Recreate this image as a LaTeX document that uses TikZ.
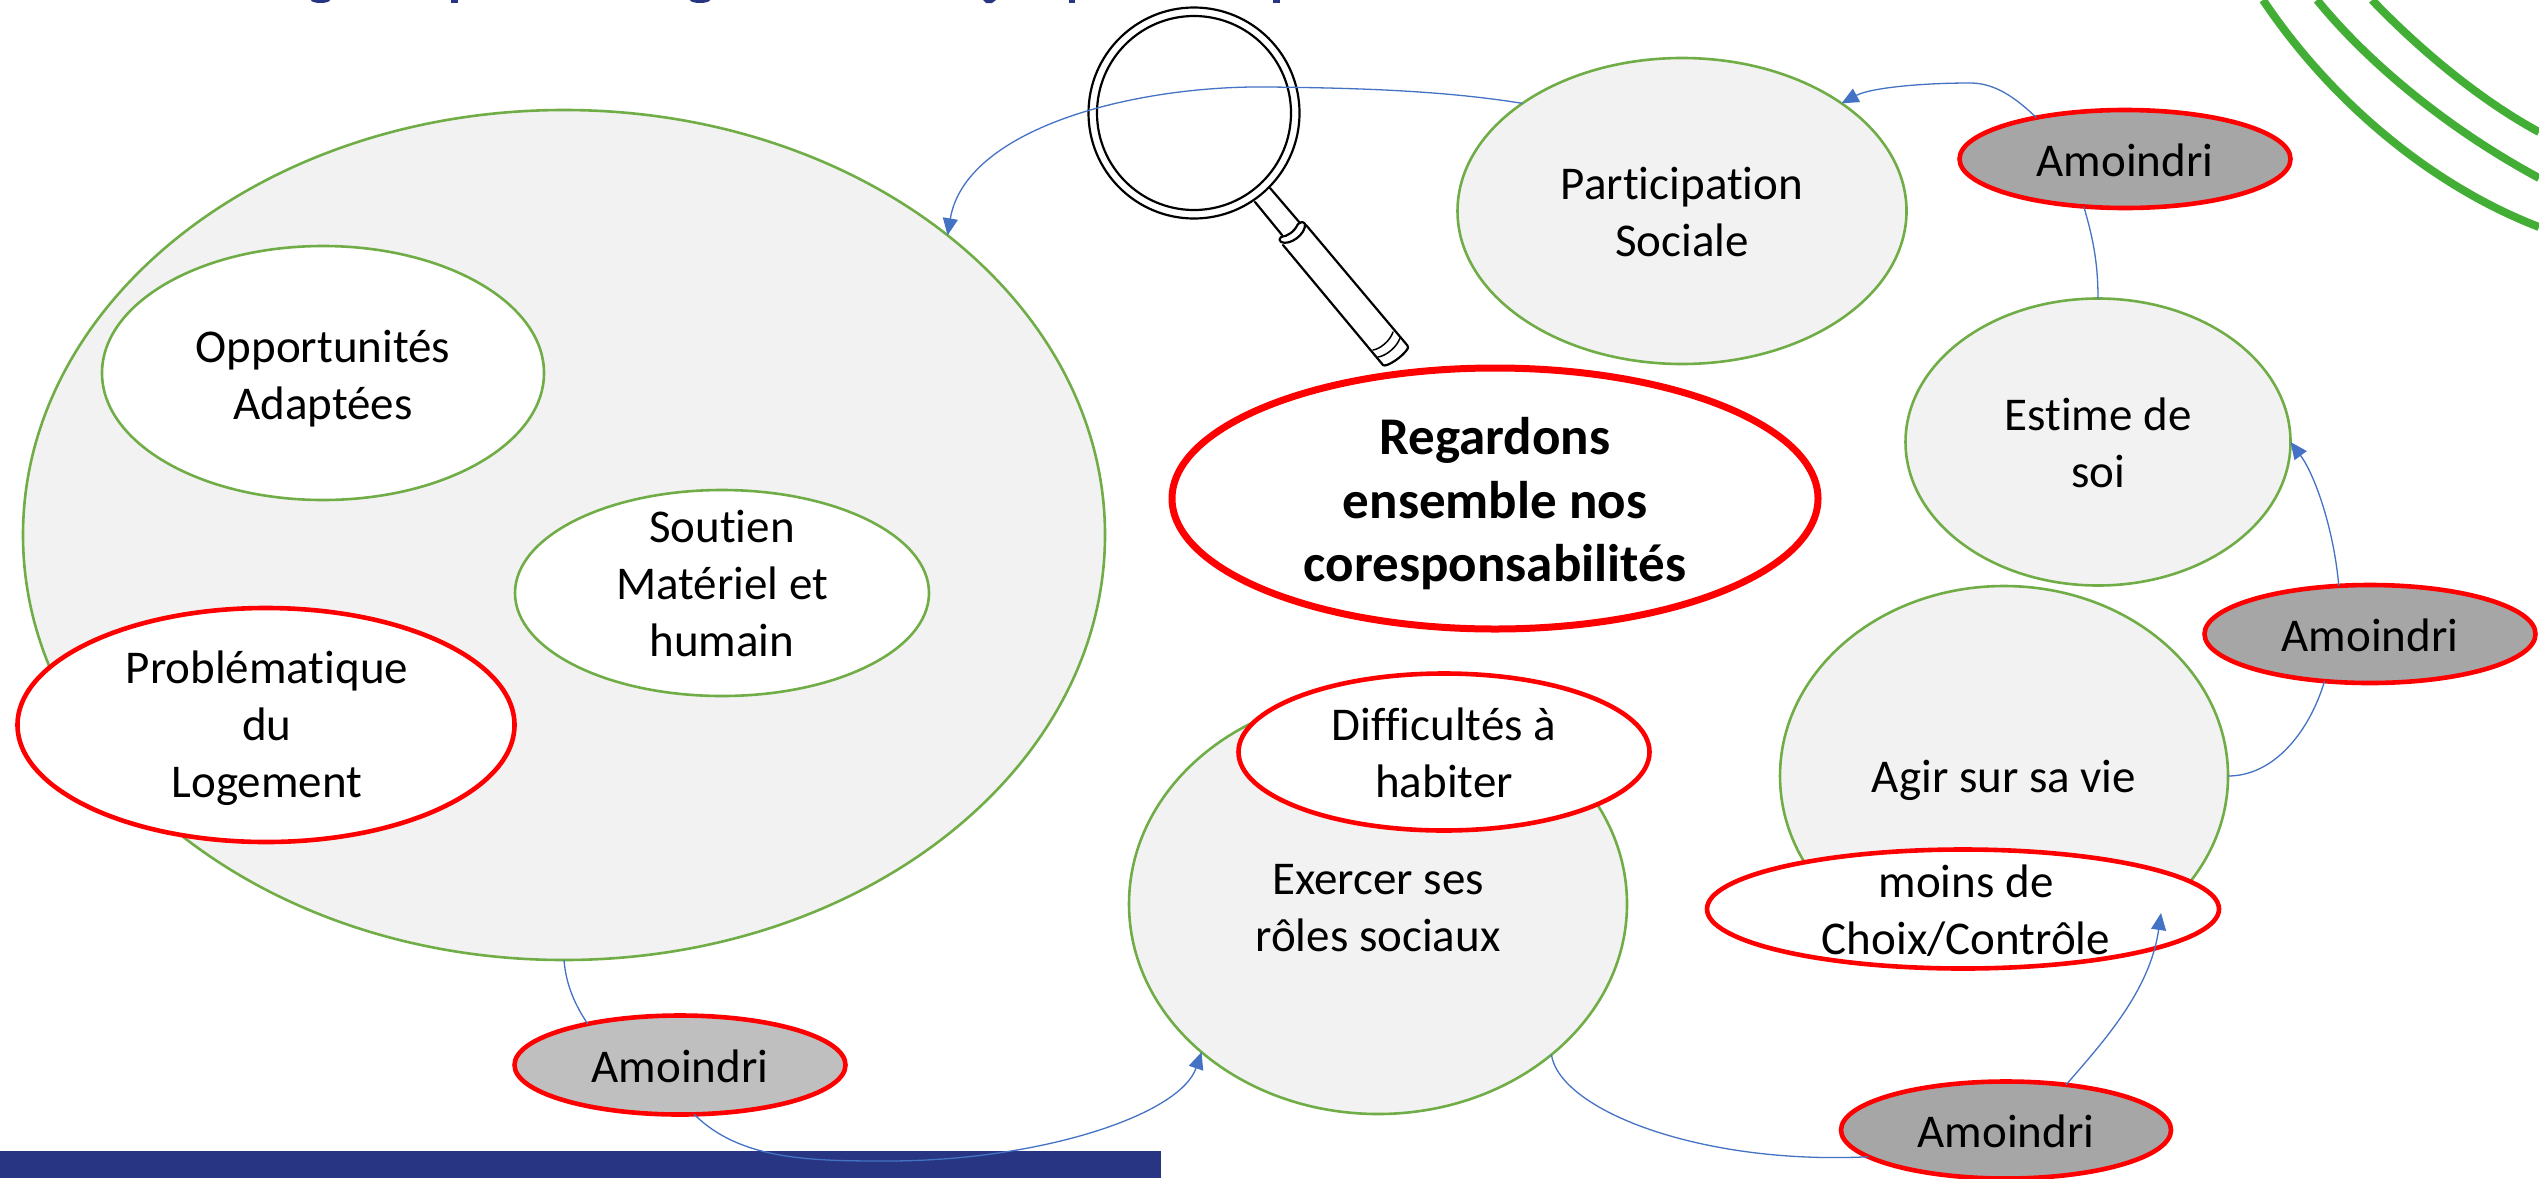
\documentclass[tikz,border=0pt]{standalone}
\usepackage{fontspec}
\setmainfont{Carlito}[Ligatures=NoCommon]
\usetikzlibrary{arrows.meta,shapes.geometric}
\definecolor{gborder}{HTML}{70AD47}
\definecolor{gfill}{HTML}{F2F2F2}
\definecolor{cblue}{HTML}{4472C4}
\definecolor{navy}{HTML}{283583}
\definecolor{arcgreen}{HTML}{43AE35}
\definecolor{darkg}{HTML}{A6A6A6}
\definecolor{lightg}{HTML}{BFBFBF}
\tikzset{
  x=1pt,y=-1pt,
  oval/.style={shape=ellipse,inner sep=0pt,outer sep=0pt},
  soft/.style={oval,draw=gborder,fill=gfill,line width=2.6pt},
  softwhite/.style={oval,draw=gborder,fill=white,line width=2.6pt},
  alert/.style={oval,draw=red,fill=white,line width=4.6pt},
  amo/.style={oval,draw=red,line width=4.6pt},
  txt/.style={align=center,inner sep=0pt,font=\fontsize{47}{57}\selectfont},
  boldtxt/.style={align=center,inner sep=0pt,font=\fontsize{53}{63.5}\selectfont\bfseries},
  link/.style={draw=cblue,line width=1.3pt},
  linkarrow/.style={link,-{Triangle[length=17pt,width=15pt,fill=cblue]}},
  lens/.style={draw=black,line width=2.2pt,line join=round,line cap=round},
  greenarc/.style={draw=arcgreen,line width=8pt},
  titlebit/.style={fill=navy,draw=none}
}
\begin{document}
\begin{tikzpicture}
\useasboundingbox (0,0) rectangle (2539,1178);
\clip (0,0) rectangle (2539,1178);
\fill[white] (0,0) rectangle (2539,1178);
% title descenders cut by the page edge
\fill[titlebit] (311,0) arc[start angle=180,end angle=0,x radius=9.5,y radius=3] -- cycle;
\fill[titlebit] (451,0) rectangle (458,3);
\fill[titlebit] (690,0) arc[start angle=180,end angle=0,x radius=10,y radius=3] -- cycle;
\fill[titlebit] (983,0) -- (996,0) -- (992,3) -- (986,3) -- cycle;
\fill[titlebit] (1069,0) rectangle (1075,3);
\fill[titlebit] (1273,0) rectangle (1280,3);
% bar
\fill[navy] (0,1151) rectangle (1161,1178);
% arcs
\draw[greenarc] (2263,0) .. controls (2330,100) and (2430,185) .. (2539,227);
\draw[greenarc] (2317,0) .. controls (2370,65) and (2450,130) .. (2539,178);
\draw[greenarc] (2372,0) .. controls (2420,50) and (2480,100) .. (2539,132);
% magnifier
\draw[lens] (1194,113) circle[radius=105.5];
\draw[lens] (1194,113) circle[radius=97];
\draw[lens] (1255,202) -- (1282,235);
\draw[lens] (1270,188) -- (1300,223);
\draw[lens] (1281,242) .. controls (1290,246) and (1306,234) .. (1305,224) .. controls (1303,221) and (1300,222) .. (1298,224) .. controls (1294,232) and (1288,236) .. (1281,237) .. controls (1279,238) and (1279,241) .. (1281,242);
\draw[lens] (1283,245) -- (1383,365) .. controls (1386,368) and (1404,356) .. (1408,348) .. controls (1408,346) and (1407,345) .. (1407,345) -- (1306,225);
\draw[lens,line width=1.5pt] (1373,350) .. controls (1380,349) and (1390,341) .. (1393,332);
\draw[lens,line width=1.5pt] (1378,357) .. controls (1386,356) and (1397,347) .. (1400,338);
% ovals
\node[soft,minimum width=1082pt,minimum height=850pt] (big) at (564,535) {};
\node[softwhite,minimum width=442pt,minimum height=254pt] (opp) at (323,373) {};
\node[softwhite,minimum width=414pt,minimum height=206pt] (sou) at (722,593) {};
\node[alert,minimum width=497pt,minimum height=234pt] (pro) at (266,725) {};
\node[soft,minimum width=449pt,minimum height=306pt] (par) at (1682,211) {};
\node[soft,minimum width=385pt,minimum height=287pt] (est) at (2098,442) {};
\node[soft,minimum width=448pt,minimum height=380pt] (agi) at (2004,776) {};
\node[alert,minimum width=512pt,minimum height=119pt] (moi) at (1963,909) {};
\node[soft,minimum width=498pt,minimum height=420pt] (exe) at (1378,904) {};
\node[alert,minimum width=411pt,minimum height=157pt] (dif) at (1444,752) {};
\node[alert,line width=7pt,minimum width=646pt,minimum height=261pt] (reg) at (1495,498.5) {};
\node[amo,fill=darkg,minimum width=331pt,minimum height=98pt] (amoa) at (2125,159) {};
\node[amo,fill=darkg,minimum width=331pt,minimum height=98pt] (amob) at (2370,634) {};
\node[amo,fill=darkg,minimum width=330pt,minimum height=97pt] (amoc) at (2006,1130) {};
\node[amo,fill=lightg,minimum width=331pt,minimum height=99pt] (amod) at (680,1065) {};
% texts
\node[txt] (topp) at (323,379) {Opportunités\\Adaptées};
\node[txt] (tsou) at (722,583) {Soutien\\Matériel et\\humain};
\node[txt] (tpro) at (267,728) {Problématique\\du\\Logement};
\node[txt] (tpar) at (1682,212) {Participation\\Sociale};
\node[txt] (test) at (2098,443) {Estime de\\soi};
\node[txt] (tagi) at (2004,780) {Agir sur sa vie};
\node[txt] (tmoi) at (1966,911) {moins de\\Choix/Contrôle};
\node[txt] (texe) at (1378,908) {Exercer ses\\rôles sociaux};
\node[txt] (tdif) at (1444,753) {Difficultés à\\habiter};
\node[boldtxt] (treg) at (1495,504) {Regardons\\ensemble nos\\coresponsabilités};
\node[txt] (tamoa) at (2125,160) {Amoindri};
\node[txt] (tamob) at (2370,635) {Amoindri};
\node[txt] (tamoc) at (2006,1131) {Amoindri};
\node[txt] (tamod) at (680,1066) {Amoindri};
% connectors
\coordinate (moitip) at (2161,913);
\draw[linkarrow] (par.146.2) .. controls (1440,90) and (1350,88) .. (1270,87) .. controls (1130,85) and (965,130) .. (big.38.07);
\draw[linkarrow] (amoa.155.5) .. controls (2010,92) and (1990,83) .. (1970,83) .. controls (1920,83) and (1870,88) .. (par.34.2);
\draw[link] (est.90) .. controls (2098,260) and (2092,235) .. (amoa.229.5);
\draw[linkarrow] (amob.123.4) .. controls (2334,530) and (2315,475) .. (est.0);
\draw[link] (agi.0) .. controls (2275,776) and (2310,730) .. (amob.226.7);
\draw[linkarrow] (amoc.37.8) .. controls (2105,1040) and (2150,990) .. (moitip);
\draw[link] (exe.319.8) .. controls (1560,1110) and (1700,1165) .. (amoc.191);
\draw[link] (big.270) .. controls (566,985) and (575,1005) .. (amod.156.7);
\draw[linkarrow] (amod.286.7) .. controls (740,1160) and (810,1161) .. (887,1161) .. controls (1040,1161) and (1180,1115) .. (exe.220.2);
\end{tikzpicture}
\end{document}
